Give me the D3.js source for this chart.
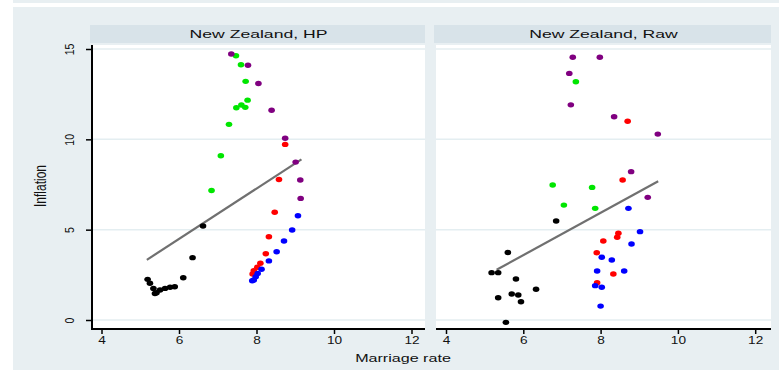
<!DOCTYPE html>
<html>
<head>
<meta charset="utf-8">
<script src="https://cdn.jsdelivr.net/npm/d3@7"></script>
<style>
  html, body { margin: 0; padding: 0; background: #ffffff; }
  svg { display: block; font-family: "Liberation Sans", Arial, sans-serif; }
</style>
</head>
<body>
<svg id="chart" width="779" height="374"></svg>
<script>
// Marriage rate (x) vs inflation (y), New Zealand, by period group
const panels = ["New Zealand, HP", "New Zealand, Raw"];
const groupColors = { black: "#000000", green: "#00e600", purple: "#800080", red: "#ff0000", blue: "#0000ff" };

// Left panel: HP-filtered series
const hpBlack  = [[5.19,2.25],[5.25,2.03],[5.34,1.75],[5.38,1.47],[5.42,1.51],[5.51,1.66],[5.64,1.75],[5.77,1.81],[5.89,1.84],[6.11,2.34],[6.35,3.45],[6.62,5.20]];
const hpGreen  = [[6.84,7.17],[7.08,9.09],[7.29,10.83],[7.48,11.75],[7.61,11.90],[7.71,11.77],[7.77,12.17],[7.72,13.21],[7.60,14.13],[7.47,14.63]];
const hpPurple = [[7.35,14.72],[7.78,14.10],[8.05,13.09],[8.39,11.61],[8.74,10.06],[9.01,8.74],[9.13,7.75],[9.14,6.73]];
const hpRed    = [[8.74,9.72],[8.58,7.78],[8.47,5.96],[8.32,4.61],[8.24,3.67],[8.10,3.14],[8.02,2.92],[7.93,2.73],[7.90,2.55]];
const hpBlue   = [[9.07,5.77],[8.92,4.98],[8.71,4.37],[8.52,3.78],[8.32,3.27],[8.13,2.81],[8.03,2.58],[7.98,2.40],[7.93,2.21],[7.89,2.17]];
const hpFit    = [[5.17,3.33],[9.16,8.89]];

// Right panel: raw series
const rawBlack  = [[6.85,5.48],[5.60,3.74],[5.18,2.62],[5.35,2.62],[5.81,2.27],[6.33,1.70],[5.70,1.44],[5.87,1.38],[5.35,1.23],[5.94,1.01],[5.55,-0.13]];
const rawGreen  = [[7.36,13.19],[6.76,7.47],[7.78,7.34],[7.05,6.36],[7.86,6.18]];
const rawPurple = [[7.28,14.54],[7.98,14.54],[7.19,13.65],[7.23,11.91],[8.35,11.25],[9.48,10.29],[8.79,8.21],[9.22,6.79]];
const rawRed    = [[8.70,11.00],[8.57,7.75],[8.46,4.80],[8.43,4.58],[8.07,4.37],[7.90,3.72],[8.33,2.55],[7.91,2.06]];
const rawBlue   = [[8.72,6.18],[9.02,4.89],[8.80,4.21],[8.03,3.47],[8.29,3.32],[7.91,2.71],[8.61,2.71],[7.86,1.90],[8.03,1.81],[8.00,0.77]];
const rawFit    = [[5.31,2.78],[9.49,7.68]];

const xTicks = [4, 6, 8, 10, 12];
const yTicks = [0, 5, 10, 15];

const panelData = [
  { title: panels[0], fit: hpFit, groups: [["black",hpBlack],["green",hpGreen],["purple",hpPurple],["red",hpRed],["blue",hpBlue]] },
  { title: panels[1], fit: rawFit, groups: [["black",rawBlack],["green",rawGreen],["purple",rawPurple],["red",rawRed],["blue",rawBlue]] }
];

const svg = d3.select("#chart");
const bg = "#e8eff2";
const textFill = "#111111";

// graph region
svg.append("rect").attr("x", 13).attr("y", 0).attr("width", 766).attr("height", 3).attr("fill", bg);
svg.append("rect").attr("x", 13).attr("y", 7).attr("width", 766).attr("height", 363).attr("fill", bg);

const plotTop = 45, plotBottom = 329;
const panelX = [[92, 425], [436, 771]];
const y = d3.scaleLinear().domain([0, 15]).range([320, 49]);

panelData.forEach((p, i) => {
  const [x0, x1] = panelX[i];
  const x = d3.scaleLinear().domain([4, 12]).range(i === 0 ? [101.5, 411.5] : [446, 755.2]);
  const g = svg.append("g");

  // header strip
  g.append("rect").attr("x", x0 - 2).attr("y", 25).attr("width", x1 - x0 + 2).attr("height", 18).attr("fill", "#d8e3e9");
  g.append("text").attr("transform", `translate(${(x0 + x1) / 2},38) scale(1.6,1)`).attr("text-anchor", "middle")
    .attr("font-size", 11).attr("fill", textFill).text(p.title);

  // plot area
  g.append("rect").attr("x", x0).attr("y", plotTop).attr("width", x1 - x0).attr("height", plotBottom - plotTop).attr("fill", "#ffffff");

  // gridlines
  g.selectAll("line.grid").data(yTicks).join("line")
    .attr("x1", x0).attr("x2", x1).attr("y1", d => y(d)).attr("y2", d => y(d))
    .attr("stroke", "#e4eef1").attr("stroke-width", 1.5);

  // x axis
  const xAxis = d3.axisBottom(x).tickValues(xTicks).tickSize(5).tickPadding(3).tickFormat(d3.format("d"));
  const xa = g.append("g").attr("transform", `translate(0,${plotBottom})`).call(xAxis);
  xa.select(".domain").remove();
  xa.append("line").attr("x1", x0).attr("x2", x1).attr("y1", 0).attr("y2", 0).attr("stroke", "#000").attr("stroke-width", 2);
  xa.selectAll(".tick line").attr("stroke", "#000").attr("stroke-width", 1.5);
  xa.selectAll(".tick text").attr("font-size", 10.5).attr("fill", textFill)
    .attr("font-family", "Liberation Sans, Arial, sans-serif").attr("transform", "scale(1.3,1)");

  // y axis only on the first panel
  if (i === 0) {
    const yAxis = d3.axisLeft(y).tickValues(yTicks).tickSize(6).tickPadding(0).tickFormat(d3.format("d"));
    const ya = g.append("g").attr("transform", `translate(${x0},0)`).call(yAxis);
    ya.select(".domain").remove();
    ya.append("line").attr("x1", 0).attr("x2", 0).attr("y1", plotTop).attr("y2", plotBottom + 1).attr("stroke", "#000").attr("stroke-width", 2);
    ya.selectAll(".tick line").attr("stroke", "#000").attr("stroke-width", 1.5);
    ya.selectAll(".tick text")
      .attr("font-size", 10.5).attr("fill", textFill).attr("font-family", "Liberation Sans, Arial, sans-serif")
      .attr("text-anchor", "middle").attr("x", 0).attr("dy", 0)
      .attr("transform", "translate(-18,0) scale(1.3,1) rotate(-90)");
  }

  // fitted line
  g.append("line")
    .attr("x1", x(p.fit[0][0])).attr("y1", y(p.fit[0][1]))
    .attr("x2", x(p.fit[1][0])).attr("y2", y(p.fit[1][1]))
    .attr("stroke", "#707070").attr("stroke-width", 2.2);

  // markers
  p.groups.forEach(([c, pts]) => {
    g.selectAll(null).data(pts).join("ellipse")
      .attr("cx", d => x(d[0])).attr("cy", d => y(d[1])).attr("rx", 3.3).attr("ry", 2.7)
      .attr("fill", groupColors[c]);
  });
});

// axis titles
svg.append("text").attr("transform", "translate(46,186) scale(1.3,1) rotate(-90)").attr("text-anchor", "middle")
  .attr("font-size", 12).attr("fill", textFill).text("Inflation");
svg.append("text").attr("transform", "translate(403,362) scale(1.4,1)").attr("text-anchor", "middle")
  .attr("font-size", 11.5).attr("fill", textFill).text("Marriage rate");
</script>
</body>
</html>
